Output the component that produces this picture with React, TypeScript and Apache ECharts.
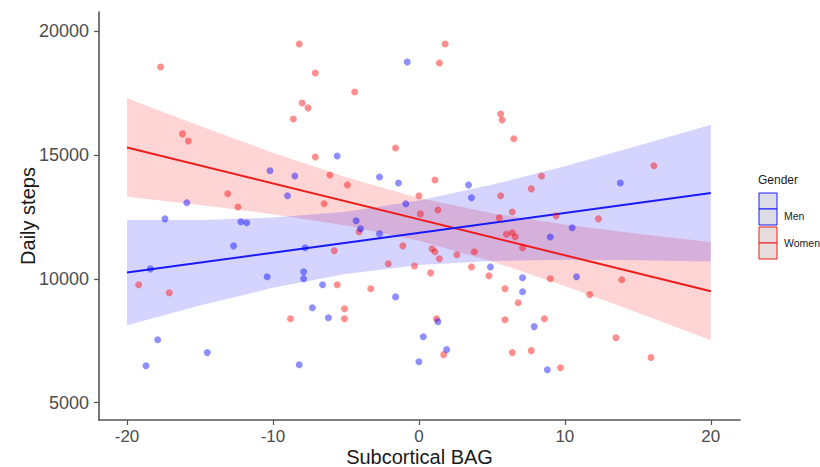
import React, { useEffect, useRef } from "react";
import * as echarts from "echarts";

// ---- data ----
const xTicks = [-20, -10, 0, 10, 20];
const yTicks = [5000, 10000, 15000, 20000];
const groups = ["Men", "Women"];

const menBAG = [-0.8, -5.6, -10.2, -8.5, -9.0, -15.9, -17.4, -12.2, -11.8, -12.7, -18.4, -7.8, -10.4, -7.9, -7.9, -2.7, -1.4, 3.4, 3.6, -0.9, -4.3, -4.0, -2.7, 4.9, -6.6, 13.8, 10.5, 9.0, 7.1, 10.8, 7.1, 7.9, 8.8, -1.6, -7.3, -6.2, 1.3, 0.3, 1.9, 0.0, -8.2, -17.9, -14.5, -18.7];
const menSteps = [18750, 14960, 14360, 14150, 13350, 13070, 12420, 12300, 12260, 11330, 10400, 11250, 10080, 10280, 10000, 14110, 13870, 13790, 13270, 13030, 12340, 12020, 11820, 10480, 9760, 13870, 12060, 11690, 10040, 10080, 9480, 8070, 6330, 9270, 8830, 8430, 8270, 7660, 7140, 6650, 6530, 7540, 7020, 6490];

const womenBAG = [-17.7, -8.2, -8.0, -7.6, -8.6, -16.2, -15.8, -7.1, -4.4, 1.8, 1.4, 5.6, 5.7, 6.5, -1.6, -7.1, -13.1, -12.4, -19.2, -6.1, -4.9, 1.1, 5.6, 6.4, -6.5, 0.0, 0.1, 1.3, -4.1, 5.5, 6.4, 6.0, 6.6, 7.1, -5.8, -1.1, 0.9, 1.1, 1.4, 2.6, 3.8, -2.1, -0.3, 0.8, 3.6, 4.8, -5.6, -3.3, 5.9, 8.4, 7.7, 16.1, 9.4, 12.3, 9.0, 13.9, 6.8, 11.7, 8.6, 13.5, 6.4, 7.7, 15.9, 9.7, -5.1, -5.1, 1.2, 1.7, 5.9, -17.1, -8.8];
const womenSteps = [18550, 19480, 17100, 16900, 16450, 15850, 15560, 18310, 17540, 19480, 18710, 16650, 16410, 15650, 15280, 14920, 13430, 12900, 9760, 14190, 13790, 13990, 13350, 12700, 13030, 13350, 12620, 12780, 11900, 12460, 11860, 11800, 11700, 11250, 11130, 11330, 11210, 11090, 10810, 10970, 11090, 10610, 10520, 10240, 10480, 10120, 9760, 9600, 9600, 14150, 13630, 14560, 12540, 12420, 10000, 9960, 9030, 9360, 8390, 7620, 7020, 7100, 6820, 6410, 8790, 8390, 8390, 6940, 8350, 9440, 8390];

// fitted lines (end points)
const fitX = [-20, 20];
const menFit = [10250, 13460];
const womenFit = [15300, 9500];

// confidence bands read at these BAG values
const bandX = [-20, -15, -10, -5, 0, 5, 10, 15, 20];
const menLower = [8127, 8924, 9636, 10198, 10553, 10720, 10769, 10751, 10698];
const menUpper = [12373, 12378, 12470, 12710, 13157, 13792, 14547, 15367, 16222];
const womenLower = [13316, 12982, 12608, 12153, 11537, 10703, 9708, 8632, 7516];
const womenUpper = [17284, 16168, 15092, 14097, 13263, 12647, 12192, 11818, 11484];

const FONT = "'Liberation Sans', Arial, Helvetica, sans-serif";
const BLUE = "#1a1aff";
const RED = "#ee1c1c";

function bandSeries(name: string, lo: number[], hi: number[], fill: string) {
  return {
    type: "custom",
    name,
    silent: true,
    z: 1,
    data: bandX.map((x, i) => [x, lo[i], hi[i]]),
    encode: { x: 0, y: [1, 2] },
    renderItem: (params: any, api: any) => {
      if (params.dataIndex !== 0) return null;
      const top = bandX.map((x, i) => api.coord([x, hi[i]]));
      const bot = bandX.map((x, i) => api.coord([x, lo[i]])).reverse();
      return {
        type: "polygon",
        shape: { points: [...top, ...bot] },
        style: { fill, stroke: null },
      };
    },
  };
}

export default function App() {
  const ref = useRef<HTMLDivElement>(null);
  useEffect(() => {
    document.body.style.margin = "0";
    const chart = echarts.init(ref.current!, null, { renderer: "svg" });
    const axisColor = "#555555";
    chart.setOption({
      animation: false,
      backgroundColor: "#ffffff",
      textStyle: { fontFamily: FONT },
      grid: { left: 99, right: 80, top: 12, bottom: 47, containLabel: false, outerBoundsMode: "none" },
      xAxis: {
        type: "value",
        min: -21.92,
        max: 22,
        name: "Subcortical BAG",
        nameLocation: "middle",
        nameGap: 27,
        nameMoveOverlap: false,
        nameTextStyle: { fontSize: 20, color: "#1a1a1a", fontFamily: FONT, lineHeight: 20 },
        axisLine: { show: true, onZero: false, lineStyle: { color: axisColor, width: 1.6 } },
        axisTick: { show: true, length: 5, customValues: xTicks, lineStyle: { color: axisColor, width: 1.2 } },
        axisLabel: { customValues: xTicks, fontSize: 17, lineHeight: 17, color: "#4d4d4d", margin: 8, fontFamily: FONT, formatter: (v: number) => String(v) },
        splitLine: { show: false },
      },
      yAxis: {
        type: "value",
        min: 4300,
        max: 20770,
        name: "Daily steps",
        nameLocation: "middle",
        nameGap: 61,
        nameMoveOverlap: false,
        nameTextStyle: { fontSize: 20, color: "#1a1a1a", fontFamily: FONT },
        axisLine: { show: true, onZero: false, lineStyle: { color: axisColor, width: 1.6 } },
        axisTick: { show: true, length: 5, customValues: yTicks, lineStyle: { color: axisColor, width: 1.2 } },
        axisLabel: { customValues: yTicks, fontSize: 18, color: "#4d4d4d", margin: 10, fontFamily: FONT, formatter: (v: number) => String(v) },
        splitLine: { show: false },
      },
      series: [
        bandSeries("WomenBand", womenLower, womenUpper, "rgba(255,0,0,0.17)"),
        bandSeries("MenBand", menLower, menUpper, "rgba(0,0,255,0.17)"),
        {
          type: "line",
          name: "WomenFit",
          z: 2,
          data: fitX.map((x, i) => [x, womenFit[i]]),
          showSymbol: false,
          symbol: "none",
          lineStyle: { color: RED, width: 2 },
          silent: true,
        },
        {
          type: "line",
          name: "MenFit",
          z: 2,
          data: fitX.map((x, i) => [x, menFit[i]]),
          showSymbol: false,
          symbol: "none",
          lineStyle: { color: BLUE, width: 2 },
          silent: true,
        },
        {
          type: "scatter",
          name: groups[1],
          z: 3,
          symbolSize: 7,
          data: womenBAG.map((x, i) => [x, womenSteps[i]]),
          itemStyle: { color: "rgba(255,0,0,0.55)" },
        },
        {
          type: "scatter",
          name: groups[0],
          z: 3,
          symbolSize: 7,
          data: menBAG.map((x, i) => [x, menSteps[i]]),
          itemStyle: { color: "rgba(0,0,255,0.55)" },
        },
      ],
      graphic: [
        { type: "text", left: 758, top: 174, style: { text: "Gender", fontSize: 12, fill: "#1a1a1a", fontFamily: FONT } },
        { type: "rect", shape: { x: 759, y: 193, width: 18, height: 16 }, style: { fill: "#dcdce6", stroke: BLUE, lineWidth: 1 } },
        { type: "rect", shape: { x: 759, y: 209, width: 18, height: 16 }, style: { fill: "#dcdce6", stroke: BLUE, lineWidth: 1 } },
        { type: "rect", shape: { x: 759, y: 227, width: 18, height: 16 }, style: { fill: "#e6dcdc", stroke: RED, lineWidth: 1 } },
        { type: "rect", shape: { x: 759, y: 243, width: 18, height: 16 }, style: { fill: "#e6dcdc", stroke: RED, lineWidth: 1 } },
        { type: "text", left: 784, top: 210, style: { text: groups[0], fontSize: 10.5, fill: "#1a1a1a", fontFamily: FONT } },
        { type: "text", left: 784, top: 237, style: { text: groups[1], fontSize: 10.5, fill: "#1a1a1a", fontFamily: FONT } },
      ],
    });
    return () => chart.dispose();
  }, []);
  return <div ref={ref} style={{ position: "fixed", left: 0, top: 0, width: 820, height: 467 }} />;
}
